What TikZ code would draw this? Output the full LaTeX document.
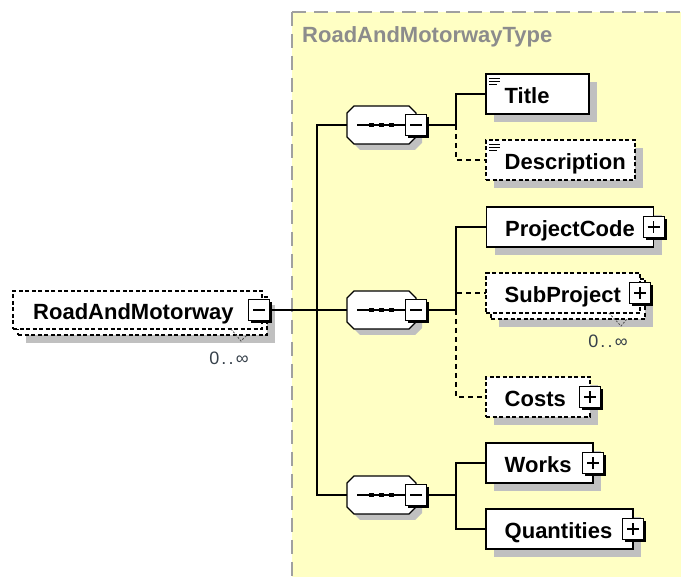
\documentclass[tikz,border=0pt]{standalone}
\usepackage{fontspec}
\setmainfont{Liberation Sans}
\usetikzlibrary{calc}
\definecolor{panelfill}{HTML}{FFFFC4}
\definecolor{panelline}{HTML}{A0A0A0}
\definecolor{shadowgray}{HTML}{C0C0C0}
\definecolor{typegray}{HTML}{8C8C8C}
\definecolor{multgray}{HTML}{36404A}
\pgfdeclarelayer{bg}
\pgfsetlayers{bg,main}
\newcommand\elemfont{\fontsize{22}{26}\selectfont\bfseries}
\newcommand\multfont{\fontsize{18}{21}\selectfont\addfontfeature{LetterSpace=12}}

% grey drop shadow under a named box
\newcommand\boxshadow[2]{%
  \begin{pgfonlayer}{bg}
    \fill[shadowgray] ([xshift=#2pt,yshift=-#2pt]#1.north west) rectangle ([xshift=#2pt,yshift=-#2pt]#1.south east);
  \end{pgfonlayer}}

% sequence compositor: octagon with a line of three dots
\newcommand\seqcomp[2]{%
  \node[octnode] (#1) at (#2) {};
  \begin{pgfonlayer}{bg}
    \fill[shadowgray, transform canvas={shift={(6pt,-6pt)}}]
      ([xshift=7pt]#1.north west) -- ([xshift=-7pt]#1.north east) -- ([yshift=-7pt]#1.north east) -- ([yshift=7pt]#1.south east) -- ([xshift=-7pt]#1.south east) -- ([xshift=7pt]#1.south west) -- ([yshift=7pt]#1.south west) -- ([yshift=-7pt]#1.north west) -- cycle;
  \end{pgfonlayer}
  \draw[octline]
      ([xshift=7pt]#1.north west) -- ([xshift=-7pt]#1.north east) -- ([yshift=-7pt]#1.north east) -- ([yshift=7pt]#1.south east) -- ([xshift=-7pt]#1.south east) -- ([xshift=7pt]#1.south west) -- ([yshift=7pt]#1.south west) -- ([yshift=-7pt]#1.north west) -- cycle;
  \draw[line width=1.3pt] ([xshift=10pt]#1.west) -- ([xshift=-9pt]#1.east);
  \foreach \dx in {-10,0,10} {\fill ([xshift=\dx pt]#1.center) ++(-2.3,-2.3) rectangle ++(4.6,4.6);}
}

% expand / collapse boxes
\newcommand\minusbox[2]{%
  \fill[black] ($(#2)+(-8,-8)$) rectangle ($(#2)+(13,13)$);
  \node[pmnode] (#1) at (#2) {};
  \draw[pmsign] ([xshift=-6pt]#1.center) -- ([xshift=6pt]#1.center);}
\newcommand\plusbox[2]{%
  \fill[black] ($(#2)+(-8,-8)$) rectangle ($(#2)+(13,13)$);
  \node[pmnode] (#1) at (#2) {};
  \draw[pmsign] ([xshift=-6pt]#1.center) -- ([xshift=6pt]#1.center);
  \draw[pmsign] ([yshift=-6pt]#1.center) -- ([yshift=6pt]#1.center);}

% documentation marker in the top left corner of a box
\newcommand\docicon[1]{%
  \draw[line width=1.1pt] ([xshift=3pt,yshift=-4.5pt]#1.north west) -- ++(11,0);
  \draw[line width=1.1pt] ([xshift=3pt,yshift=-7.5pt]#1.north west) -- ++(11,0);
  \draw[line width=1.1pt] ([xshift=3pt,yshift=-10.5pt]#1.north west) -- ++(8,0);}

\begin{document}
\begin{tikzpicture}[x=1pt, y=-1pt,
  elem/.style={draw=black, line width=1.6pt, fill=white, inner sep=0pt, outer sep=0pt, minimum height=40pt},
  optelem/.style={elem, dash pattern=on 4pt off 2.5pt},
  lbl/.style={font=\elemfont, anchor=west, inner sep=0pt, text=black, text height=16pt, text depth=4pt, yshift=-3.5pt},
  mult/.style={font=\multfont, text=multgray, inner sep=0pt},
  conn/.style={draw=black, line width=1.6pt},
  optconn/.style={conn, dash pattern=on 5pt off 4pt},
  pmnode/.style={draw=black, line width=1pt, fill=white, minimum size=21pt, inner sep=0pt, outer sep=0pt},
  pmsign/.style={draw=black, line width=1.3pt},
  octnode/.style={inner sep=0pt, outer sep=0pt, minimum width=69pt, minimum height=38pt},
  octline/.style={draw=black, line width=1.3pt, fill=white},
  tick/.style={draw=black!70, line width=0.8pt, dash pattern=on 2pt off 1.5pt},
]
\useasboundingbox (0,0) rectangle (681,577);

% complex type panel
\begin{pgfonlayer}{bg}
  \fill[panelfill] (292,12) rectangle (681,577);
  \draw[panelline, line width=2pt, dash pattern=on 14pt off 8pt] (292,12) -- (292,577);
  \draw[panelline, line width=2pt, dash pattern=on 14pt off 8pt] (292,12) -- (681,12);
\end{pgfonlayer}
\node[font=\elemfont, text=typegray, anchor=west, inner sep=0pt] (typename) at (302,37) {RoadAndMotorwayType};

% root element (0..unbounded)
\node[optelem, minimum width=249pt, minimum height=38pt] (rootback) at (142.5,316) {};
\boxshadow{rootback}{8}
\node[optelem, minimum width=249pt, minimum height=38pt] (root) at (137.5,310) {};
\node[lbl] (rootlbl) at ([xshift=20pt]root.west) {RoadAndMotorway};
\coordinate (rootmc) at ([xshift=-3pt]root.east);
\minusbox{rootm}{rootmc}
\draw[tick] ([xshift=-31pt]root.south east) -- ++(10,12) -- ++(6,-6);
\node[mult] (rootmult) at (229,358) {0..∞};

% sequences
\seqcomp{o1}{381.5,125}
\seqcomp{o2}{381.5,310}
\seqcomp{o3}{381.5,495}
\minusbox{m1}{o1.east}
\minusbox{m2}{o2.east}
\minusbox{m3}{o3.east}

% first sequence
\node[elem, minimum width=103pt] (title) at (537.5,94) {};
\boxshadow{title}{8}
\docicon{title}
\node[lbl] (titlelbl) at ([xshift=18.5pt]title.west) {Title};

\node[optelem, minimum width=149pt] (desc) at (560.5,160) {};
\boxshadow{desc}{8}
\docicon{desc}
\node[lbl] (desclbl) at ([xshift=18.5pt]desc.west) {Description};

% second sequence
\node[elem, minimum width=167pt] (pcode) at (570,227) {};
\boxshadow{pcode}{8}
\node[lbl] (pcodelbl) at ([xshift=18.5pt]pcode.west) {ProjectCode};
\plusbox{pcodep}{pcode.east}

\node[optelem, minimum width=154pt] (subpback) at (568,299) {};
\boxshadow{subpback}{8}
\node[optelem, minimum width=154pt] (subp) at (563,293) {};
\node[lbl] (subplbl) at ([xshift=18.5pt]subp.west) {SubProject};
\plusbox{subpp}{subp.east}
\draw[tick] ([xshift=-31pt]subp.south east) -- ++(12,13) -- ++(6,-7);
\node[mult] (subpmult) at (608,341) {0..∞};

\node[optelem, minimum width=104pt] (costs) at (538,397) {};
\boxshadow{costs}{8}
\node[lbl] (costslbl) at ([xshift=18.5pt]costs.west) {Costs};
\plusbox{costsp}{costs.east}

% third sequence
\node[elem, minimum width=107pt] (works) at (539.5,463) {};
\boxshadow{works}{8}
\node[lbl] (workslbl) at ([xshift=18.5pt]works.west) {Works};
\plusbox{worksp}{works.east}

\node[elem, minimum width=147pt] (quant) at (559.5,529) {};
\boxshadow{quant}{8}
\node[lbl] (quantlbl) at ([xshift=18.5pt]quant.west) {Quantities};
\plusbox{quantp}{quant.east}

% connectors
\coordinate (J) at (317,310);
\coordinate (j1) at (456,125);
\coordinate (j2) at (456,310);
\coordinate (j3) at (456,495);
\draw[conn] (rootm.east) -- (o2.west);
\draw[conn] (J) |- (o1.west);
\draw[conn] (J) |- (o3.west);

\draw[conn] (m1.east) -- (j1);
\draw[optconn] (j1) |- (desc.west);
\draw[conn] (j1) |- (title.west);

\draw[optconn] (j2) |- (costs.west);
\draw[optconn] (j2) |- (subp.west);
\draw[conn] (m2.east) -- (j2);
\draw[conn] (j2) |- (pcode.west);

\draw[conn] (m3.east) -- (j3);
\draw[conn] (j3) |- (works.west);
\draw[conn] (j3) |- (quant.west);
\end{tikzpicture}
\end{document}
